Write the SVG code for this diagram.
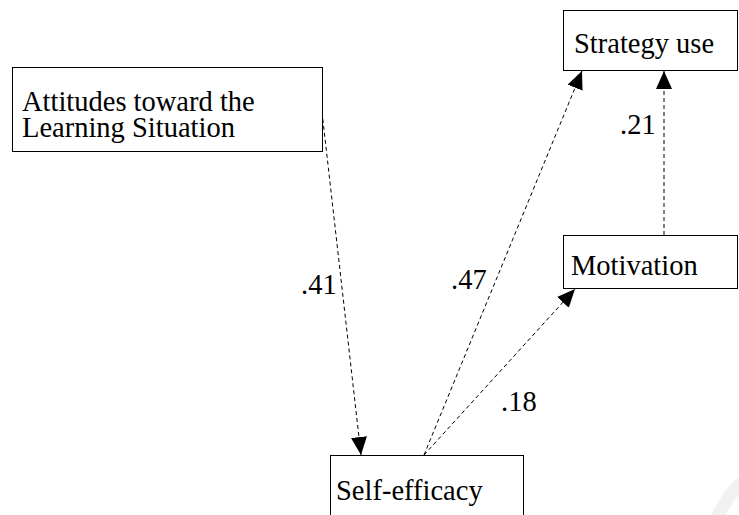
<svg xmlns="http://www.w3.org/2000/svg" width="739" height="515" viewBox="0 0 739 515">
  <style>
    .box { fill: #ffffff; stroke: #000000; stroke-width: 1; }
    text { font-family: "Liberation Serif", "Times New Roman", serif; font-size: 28.5px; fill: #000000; }
    .path { fill: none; stroke: #000000; stroke-width: 1; stroke-dasharray: 4 3; }
  </style>
  <defs>
    <marker id="arrow" markerUnits="userSpaceOnUse" markerWidth="20" markerHeight="18" refX="18" refY="8" orient="auto" viewBox="0 0 20 18">
      <path d="M0,0 L18,8 L0,16 Z" fill="#000000"/>
    </marker>
  </defs>
  <rect width="739" height="515" fill="#ffffff"/>
  <!-- faint mark in the lower right corner -->
  <path d="M716,520 Q726,497 742,482" fill="none" stroke="#f1f1f1" stroke-width="13"/>

  <g id="connectors">
    <line class="path" x1="322" y1="112" x2="361" y2="455" marker-end="url(#arrow)"/>
    <line class="path" x1="424" y1="455" x2="582" y2="71" marker-end="url(#arrow)"/>
    <line class="path" x1="424" y1="455" x2="575" y2="289" marker-end="url(#arrow)"/>
    <line class="path" x1="664" y1="235" x2="664" y2="71" marker-end="url(#arrow)"/>
    <text x="301" y="294">.41</text>
    <text x="451" y="289">.47</text>
    <text x="501" y="411">.18</text>
    <text x="620" y="134">.21</text>
  </g>

  <g id="attitudes">
    <rect class="box" x="12.5" y="67.5" width="310" height="84"/>
    <text x="22" y="111">Attitudes toward the</text>
    <text x="22" y="137">Learning Situation</text>
  </g>

  <g id="strategy-use">
    <rect class="box" x="563.5" y="10.5" width="174" height="60"/>
    <text x="574" y="53">Strategy use</text>
  </g>

  <g id="motivation">
    <rect class="box" x="563.5" y="235.5" width="174" height="53"/>
    <text x="571" y="275">Motivation</text>
  </g>

  <g id="self-efficacy">
    <rect class="box" x="330.5" y="455.5" width="193" height="70"/>
    <text x="336" y="500">Self-efficacy</text>
  </g>
</svg>
